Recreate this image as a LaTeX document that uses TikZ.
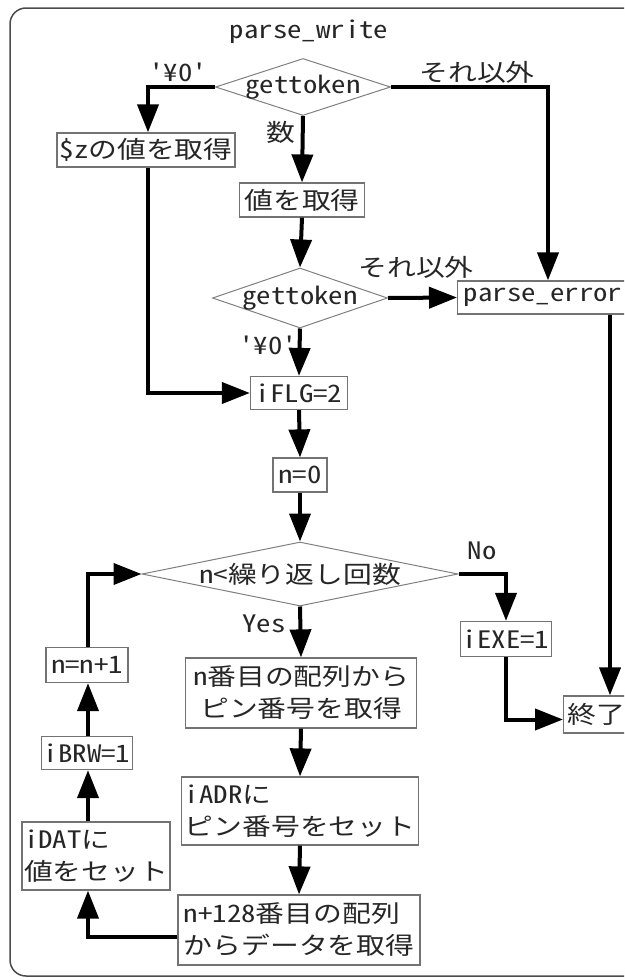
\documentclass[tikz,border=0pt]{standalone}
\usepackage{fontspec}
\usetikzlibrary{arrows.meta,shapes.geometric}
\newfontfamily\jpf[FakeStretch=1.2]{Noto Sans CJK JP}
\newfontfamily\ltf[FakeStretch=1.2,RawFeature=+hwid,Ligatures=TeXOff]{Noto Sans CJK JP}
\begin{document}
\begin{tikzpicture}[x=1pt,y=-1pt,
  every node/.style={font=\fontsize{24}{32}\selectfont\ltf, text=black!85},
  box/.style={draw=black!55, line width=1.2pt, inner sep=2pt},
  dia/.style={diamond, draw=black!50, line width=1pt, inner sep=0pt},
  lbl/.style={inner sep=0pt},
  arr/.style={line width=4pt, line join=miter, -{Triangle[length=28pt,width=21pt]}},
  ln/.style={line width=4pt, line join=miter}]
\path[use as bounding box, clip] (0,0) rectangle (624,980);
\fill[white] (0,0) rectangle (624,980);
\draw[black!70, line width=1.5pt, rounded corners=16pt] (10,8) rectangle (660,976);

% nodes
\node[lbl] (title) at (309,32) {parse\_write};
\node[dia, minimum width=175pt, minimum height=57pt] (d1) at (303,87) {\makebox[0pt]{gettoken}};
\node[lbl] (l1) at (178,72) {'¥0'};
\node[lbl] (l2) at (477,72) {\jpf それ以外};
\node[box, minimum width=178pt, minimum height=34pt] (z) at (146,150) {\$z{\jpf の値を取得}};
\node[lbl] (l3) at (281,132) {\jpf 数};
\node[box, minimum width=125pt, minimum height=34pt] (v) at (302,200) {\jpf 値を取得};
\node[dia, minimum width=175pt, minimum height=60pt] (d2) at (300,298) {\makebox[0pt]{gettoken}};
\node[lbl] (l4) at (416,267) {\jpf それ以外};
\node[box, minimum width=171pt, minimum height=33pt, anchor=west] (pe) at (457,297.5) {parse\_error};
\node[lbl] (l5) at (268,345) {'¥0'};
\node[box, minimum width=97pt, minimum height=33pt] (flg) at (299,393) {iFLG=2};
\node[box, minimum width=54pt, minimum height=34pt] (n0) at (300,475) {n=0};
\node[dia, minimum width=316pt, minimum height=64pt] (d3) at (300,574) {\makebox[0pt]{n<{\jpf 繰り返し回数}}};
\node[lbl] (l6) at (482,551) {No};
\node[lbl] (l7) at (264,624) {Yes};
\node[box, minimum width=85pt, minimum height=35pt] (exe) at (506,639) {iEXE=1};
\node[box, minimum width=66pt, minimum height=37pt, anchor=west] (end) at (563,714.5) {\jpf 終了};
\node[box, minimum width=231pt, minimum height=70pt, align=center] (b1) at (301,693) {n{\jpf 番目の配列から}\\{\jpf ピン番号を取得}};
\node[box, minimum width=237pt, minimum height=68pt, align=left] (b2) at (300,811) {iADR{\jpf に}\\{\jpf ピン番号をセット}};
\node[box, minimum width=242pt, minimum height=70pt, align=left] (b3) at (299,930) {n+128{\jpf 番目の配列}\\{\jpf からデータを取得}};
\node[box, minimum width=146pt, minimum height=68pt, align=left] (dat) at (96,856) {iDAT{\jpf に}\\{\jpf 値をセット}};
\node[box, minimum width=87pt, minimum height=33pt] (brw) at (87,753) {iBRW=1};
\node[box, minimum width=82pt, minimum height=35pt] (nn) at (87,665) {n=n+1};

% helper coordinates
\coordinate (lx) at (148,0);
\coordinate (ex) at (548,0);
\coordinate (rx) at (610,0);
\coordinate (dx) at (88,0);

% connectors
\draw[arr] (d1.west) -| (z.north -| lx);
\draw[arr] (d1.east) -| (pe.north -| ex);
\draw[arr] (d1.south) -- (v.north);
\draw[arr] (v.south) -- (d2.north);
\draw[arr] (d2.east) -- (pe.west);
\draw[arr] (d2.south) -- (flg.north);
\draw[arr] (z.south -| lx) |- (flg.west);
\draw[arr] (flg.south) -- (n0.north);
\draw[arr] (n0.south) -- (d3.north);
\draw[arr] (d3.south) -- (b1.north);
\draw[arr] (d3.east) -| (exe.north);
\draw[arr] (exe.south) |- ([yshift=-5pt]end.west);
\draw[arr] (pe.south -| rx) -- (end.north -| rx);
\draw[arr] (b1.south) -- (b2.north);
\draw[arr] (b2.south) -- (b3.north);
\draw[arr] ([yshift=-7pt]b3.west) -| (dat.south -| dx);
\draw[arr] (dat.north -| dx) -- (brw.south -| dx);
\draw[arr] (brw.north -| dx) -- (nn.south -| dx);
\draw[arr] (nn.north -| dx) |- (d3.west);
\end{tikzpicture}
\end{document}
